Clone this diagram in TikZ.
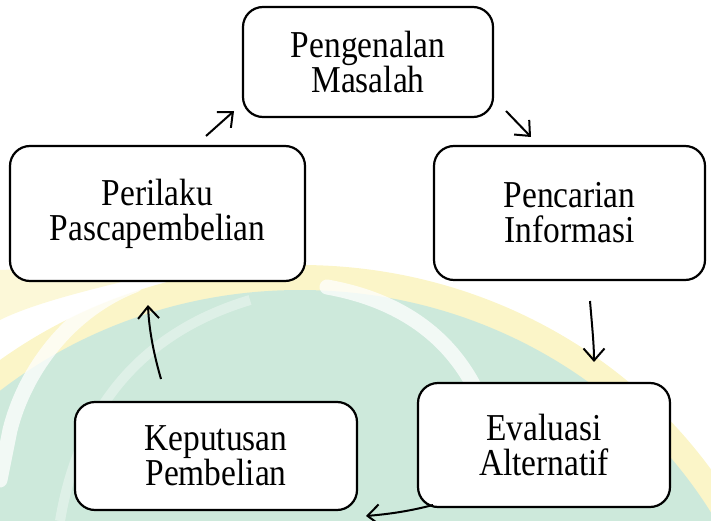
\documentclass[tikz,border=0pt]{standalone}
\usepackage{fontspec}
\setmainfont{Liberation Serif}[FakeStretch=0.88]
\usetikzlibrary{arrows.meta,calc}
\definecolor{wmgreen}{HTML}{CDE9DB}
\definecolor{wmyellow}{HTML}{FBF5C8}
\begin{document}
\begin{tikzpicture}[x=1pt,y=-1pt,
  box/.style={draw, line width=2.2pt, rounded corners=20pt, fill=white, align=center,
    font=\fontsize{38}{35}\selectfont, inner sep=0pt},
  arr/.style={line width=2pt, -{Straight Barb[length=12pt,width=21pt,line width=2pt]}},
  wmband/.style={white, line width=15pt, opacity=0.75, line cap=round}]
\useasboundingbox (0,0) rectangle (711,521);
% watermark (faint logo)
\begin{scope}
\clip (0,0) rectangle (711,521);
\fill[wmyellow] (300,740) ellipse [x radius=500, y radius=475];
\fill[wmgreen] (300,745) ellipse [x radius=478, y radius=455];
\fill[wmyellow, opacity=0.7] (0,270) .. controls (40,268) and (90,272) .. (130,280) .. controls (80,292) and (30,305) .. (0,320) -- cycle;
\draw[wmband] (135,285) .. controls (70,310) and (25,370) .. (10,430) -- (0,480);
\draw[wmband] (327,287) .. controls (400,300) and (470,340) .. (494,440);
\draw[white, line width=10pt, opacity=0.35] (250,300) .. controls (150,330) and (80,400) .. (60,521);
\end{scope}
% boxes
\node[box, minimum width=250pt, minimum height=110pt] (pm) at (368,62) {Pengenalan\\Masalah};
\node[box, minimum width=295pt, minimum height=135pt] (pp) at (157.5,213.5) {Perilaku\\Pascapembelian};
\node[box, minimum width=271pt, minimum height=134pt] (pi) at (569.5,213) {Pencarian\\Informasi};
\node[box, minimum width=282pt, minimum height=108pt] (kp) at (216,456) {Keputusan\\Pembelian};
\node[box, minimum width=252pt, minimum height=124pt] (ea) at (544,445) {Evaluasi\\Alternatif};
% arrow end points
\coordinate (a1s) at (206,136); \coordinate (a1e) at (234,111);
\coordinate (a2s) at (506,111); \coordinate (a2e) at (531,137);
\coordinate (a3s) at (590,301); \coordinate (a3e) at (594,362);
\coordinate (a4s) at (433,505); \coordinate (a4e) at (366,516);
\coordinate (a5s) at (161,379); \coordinate (a5e) at (148,305);
\draw[arr] (a1s) -- (a1e);
\draw[arr] (a2s) -- (a2e);
\draw[arr] (a3s) .. controls (592,325) and (594,345) .. (a3e);
\draw[arr] (a4s) .. controls (410,511) and (390,514) .. (a4e);
\draw[arr] (a5s) .. controls (154,355) and (149,330) .. (a5e);
\end{tikzpicture}
\end{document}
